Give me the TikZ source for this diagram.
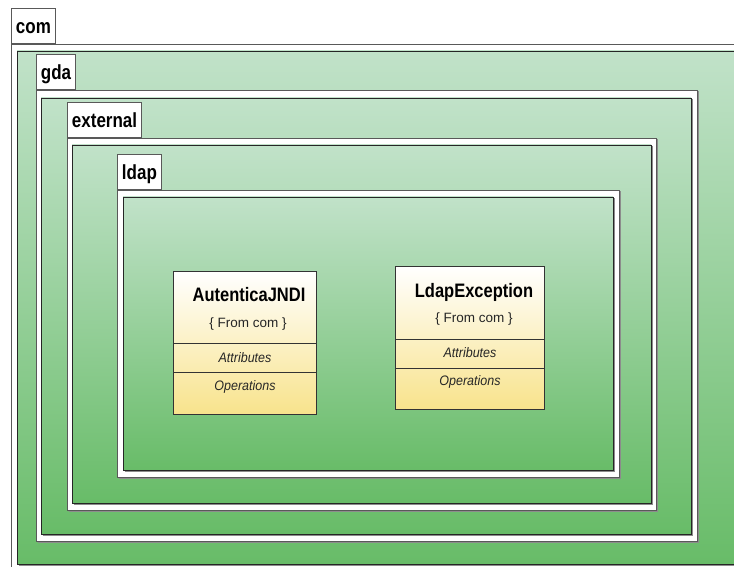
\documentclass[tikz,border=0pt]{standalone}
\usepackage{fontspec}
\usepackage{graphicx}
\setmainfont{Liberation Sans}
\usetikzlibrary{positioning}

\definecolor{mintTop}{RGB}{193,226,201}
\definecolor{mintBottom}{RGB}{104,188,104}
\definecolor{umlYellow}{RGB}{248,227,140}

\newcommand{\tallText}[2][1.2]{\scalebox{1}[#1]{#2}}

\tikzset{
	tabbox/.style={draw=black!65, fill=white, line width=0.9pt, anchor=south west,
		minimum height=35pt, inner xsep=4.5pt, text height=15pt, text depth=0pt,
		font=\fontsize{17}{17}\selectfont\bfseries},
	pkgbody/.style={draw=black!65, fill=white, line width=0.9pt},
	pkgfill/.style={draw=black!85, line width=0.9pt, top color=mintTop, bottom color=mintBottom},
	pkgshadow/.style={draw=black!45, line width=0.9pt},
	classbox/.style={draw=black!80, line width=0.9pt, top color=white, bottom color=umlYellow},
	classname/.style={anchor=base, inner sep=0pt, font=\fontsize{16.5}{16.5}\selectfont\bfseries},
	classnote/.style={anchor=base, inner sep=0pt, font=\fontsize{13.5}{13.5}\selectfont, text=black!85},
	compart/.style={anchor=base, inner sep=0pt, font=\fontsize{12.5}{12.5}\selectfont\itshape, text=black!85}
}

\begin{document}
\begin{tikzpicture}[x=1pt, y=-1pt]
		%%%%% START %%%%%
		\useasboundingbox (0, 0) rectangle (734, 567);
		\clip (0, 0) rectangle (734, 567);
		\fill[white] (0, 0) rectangle (734, 567);
		
		% package com
		\draw[pkgbody] (11, 44) rectangle (760, 590);
		\node[tabbox] (comtab) at (11, 44) {\tallText{com}};
		\draw[pkgshadow] (18.5, 565.5) -- (760, 565.5);
		\draw[pkgfill] (17, 51) rectangle (760, 564);
		
		% package gda
		\draw[pkgshadow] (37.5, 542.5) -- (698.5, 542.5) -- (698.5, 91.5);
		\draw[pkgbody] (36, 90) rectangle (697, 541);
		\node[tabbox] (gdatab) at (36, 90) {\tallText{gda}};
		\draw[pkgshadow] (42.5, 535.5) -- (692.5, 535.5) -- (692.5, 99.5);
		\draw[pkgfill] (41, 98) rectangle (691, 534);
		
		% package external
		\draw[pkgshadow] (68.5, 511.5) -- (657.5, 511.5) -- (657.5, 139.5);
		\draw[pkgbody] (67, 138) rectangle (656, 510);
		\node[tabbox] (externaltab) at (67, 138) {\tallText{external}};
		\draw[pkgshadow] (73.5, 504.5) -- (652.5, 504.5) -- (652.5, 146.5);
		\draw[pkgfill] (72, 145) rectangle (651, 503);
		
		% package ldap
		\draw[pkgshadow] (118.5, 478.5) -- (620.5, 478.5) -- (620.5, 191.5);
		\draw[pkgbody] (117, 190) rectangle (619, 477);
		\node[tabbox] (ldaptab) at (117, 190) {\tallText{ldap}};
		\draw[pkgshadow] (124.5, 471.5) -- (614.5, 471.5) -- (614.5, 198.5);
		\draw[pkgfill] (123, 197) rectangle (613, 470);
		
		% class AutenticaJNDI
		\draw[classbox] (173, 271) rectangle (316, 414);
		\draw[line width=0.9pt, color=black!80] (173, 343) -- (316, 343);
		\draw[line width=0.9pt, color=black!80] (173, 372) -- (316, 372);
		\node[classname] (autname) at (249, 301) {\tallText[1.18]{AutenticaJNDI}};
		\node[classnote] (autfrom) at (248, 327) {\{ From com \}};
		\node[compart] (autattr) at (245, 362) {\tallText[1.1]{Attributes}};
		\node[compart] (autops) at (245, 390) {\tallText[1.1]{Operations}};
		
		% class LdapException
		\draw[classbox] (395, 266) rectangle (544, 409);
		\draw[line width=0.9pt, color=black!80] (395, 339) -- (544, 339);
		\draw[line width=0.9pt, color=black!80] (395, 368) -- (544, 368);
		\node[classname] (ldexname) at (474, 297) {\tallText[1.18]{LdapException}};
		\node[classnote] (ldexfrom) at (474, 322) {\{ From com \}};
		\node[compart] (ldexattr) at (470, 357) {\tallText[1.1]{Attributes}};
		\node[compart] (ldexops) at (470, 385) {\tallText[1.1]{Operations}};
		
		%%%%% END %%%%%
	\end{tikzpicture}
\end{document}
